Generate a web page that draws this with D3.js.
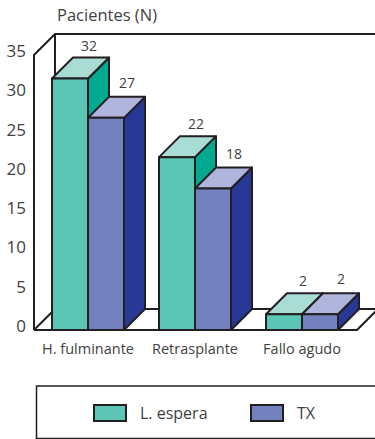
<!DOCTYPE html>
<html><head><meta charset="utf-8">
<script src="https://cdn.jsdelivr.net/npm/d3@7"></script>
<style>html,body{margin:0;padding:0;background:#fff}svg{display:block}text{font-family:"Open Sans",sans-serif;fill:#3f3f41}</style>
</head><body><div id="c"></div>
<script>
const categories = ["H. fulminante","Retrasplante","Fallo agudo"];
const seriesNames = ["L. espera","TX"];
const lEspera = [32,22,2];
const tx = [27,18,2];
const tickValues = [0,5,10,15,20,25,30,35];
const seriesFront = ["#5CC6B5","#7382BF"];
const seriesTop = ["#A8DCD5","#AFB5DD"];
const seriesSide = ["#00A98F","#283897"];

const W=375,H=439,ink="#231f20",depth=21;
const svg=d3.select("#c").append("svg").attr("width",W).attr("height",H);
const y=d3.scaleLinear().domain([0,35]).range([330,55]);
const x0=d3.scaleBand().domain(categories).range([34,355]);
const x1=d3.scaleBand().domain(seriesNames).range([18,90]);
const line=(pts,fill)=>svg.append("path").attr("d",d3.line()(pts)+(fill?"Z":""))
  .attr("fill",fill||"none").attr("stroke",ink).attr("stroke-width",2).attr("stroke-linejoin","round");

// walls and floor
const xL=34,y0=y(0),yT=y(35);
line([[xL,y0],[xL,yT],[xL+depth,yT-depth],[W+2,yT-depth]]);
line([[xL+depth,yT-depth],[xL+depth,y0-depth],[W+2,y0-depth]]);
line([[xL,y0],[xL+depth,y0-depth]]);
line([[xL,y0],[x0.range()[1]+2,y0],[x0.range()[1]+2+depth,y0-depth]]);

// axis labels
const axis=d3.axisLeft(y).tickValues(tickValues).tickSize(0).tickPadding(0);
const ag=svg.append("g").attr("transform","translate(26,-4)").call(axis);
ag.select(".domain").remove();
ag.selectAll("text").style("font-size","17px").style("font-family",'"Open Sans",sans-serif').attr("fill","#3f3f41");

// bars
const values=[lEspera,tx];
categories.forEach((c,i)=>{
  seriesNames.forEach((s,j)=>{
    const v=values[j][i];
    const l=x0(c)+x1(s),r=l+x1.bandwidth(),t=y(v);
    line([[r,y0],[r+depth,y0-depth],[r+depth,t-depth],[r,t]],seriesSide[j]);
    line([[l,t],[l+depth,t-depth],[r+depth,t-depth],[r,t]],seriesTop[j]);
    line([[l,y0],[l,t],[r,t],[r,y0]],seriesFront[j]);
  });
});
categories.forEach((c,i)=>{
  seriesNames.forEach((s,j)=>{
    const v=values[j][i];
    svg.append("text").text(v).attr("x",x0(c)+x1(s)+x1.bandwidth()/2+depth-(j?0:2))
      .attr("y",y(v)-depth-(j?9:7)).attr("text-anchor","middle").style("font-size","14px");
  });
  svg.append("text").text(c).attr("x",x0(c)+x1.step()+18).attr("y",354)
    .attr("text-anchor","middle").style("font-size","14.5px");
});

// title
svg.append("text").text("Pacientes (N)").attr("x",57).attr("y",21).style("font-size","16.5px");

// legend
svg.append("path").attr("d",d3.line()([[W+2,386],[36.5,386],[36.5,438.6],[W+2,438.6]])).attr("fill","none").attr("stroke",ink).attr("stroke-width",1.5);
const lx=d3.scaleOrdinal().domain(seriesNames).range([93,250]);
seriesNames.forEach((s,j)=>{
  svg.append("rect").attr("x",lx(s)+1).attr("y",405).attr("width",32).attr("height",16)
    .attr("fill",seriesFront[j]).attr("stroke",ink).attr("stroke-width",2);
  svg.append("text").text(s).attr("x",lx(s)+47).attr("y",419).style("font-size","16px");
});
</script></body></html>
